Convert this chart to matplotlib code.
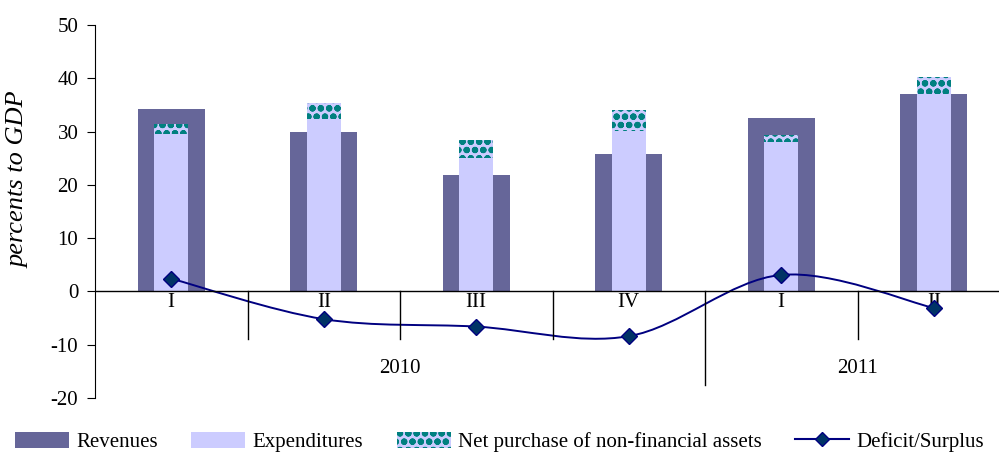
import matplotlib.pyplot as plt
import numpy as np
from matplotlib.path import Path
from matplotlib.patches import PathPatch, Patch
from matplotlib.lines import Line2D

plt.rcParams['font.family'] = ['Liberation Serif', 'DejaVu Serif']
plt.rcParams['axes.unicode_minus'] = False
plt.rcParams['hatch.linewidth'] = 2.2

quarters = ['I', 'II', 'III', 'IV', 'I', 'II']
years = ['2010', '2011']
revenues = [34.2, 30.0, 21.9, 25.7, 32.5, 37.0]
expenditures = [29.5, 32.3, 25.0, 30.1, 28.1, 37.1]
net_purchase = [1.9, 3.0, 3.4, 4.0, 1.2, 3.1]
deficit = [2.4, -5.2, -6.6, -8.4, 3.1, -3.1]

REV_COLOR = '#666699'
EXP_COLOR = '#CCCCFF'
HATCH_COLOR = '#008080'
LINE_COLOR = '#000080'


def smooth_path(xs, ys):
    # Excel-style smoothed line: Catmull-Rom as cubic Bezier segments
    pts = np.column_stack([xs, ys])
    verts = [pts[0]]
    codes = [Path.MOVETO]
    n = len(pts)
    for i in range(n - 1):
        p0 = pts[i - 1] if i > 0 else pts[i]
        p1 = pts[i]
        p2 = pts[i + 1]
        p3 = pts[i + 2] if i + 2 < n else pts[i + 1]
        c1 = p1 + (p2 - p0) / 6
        c2 = p2 - (p3 - p1) / 6
        verts += [c1, c2, p2]
        codes += [Path.CURVE4] * 3
    return Path(verts, codes)


fig = plt.figure(figsize=(9.99, 4.55), dpi=100)
ax = fig.add_axes([95 / 999, 57 / 455, 915 / 999, 373 / 455])

x = np.arange(len(quarters))
ax.bar(x, revenues, width=0.44, color=REV_COLOR, zorder=2)
ax.bar(x, expenditures, width=0.22, color=EXP_COLOR, zorder=3)
ax.bar(x, net_purchase, width=0.22, bottom=expenditures, color=EXP_COLOR,
       edgecolor=HATCH_COLOR, hatch='oo', linewidth=0, zorder=3)

ax.add_patch(PathPatch(smooth_path(x, deficit), facecolor='none',
                       edgecolor=LINE_COLOR, linewidth=1.4, zorder=4))
ax.plot(x, deficit, linestyle='none', marker='D', markersize=8,
        markerfacecolor='#003366', markeredgecolor=LINE_COLOR, zorder=5)

ax.set_xlim(-0.5, 5.5)
ax.set_ylim(-20, 50)
ax.set_yticks(range(-20, 51, 10))
ax.tick_params(axis='y', labelsize=15, direction='out', length=6, pad=6)
ax.set_xticks([])
for s in ['top', 'right', 'bottom']:
    ax.spines[s].set_visible(False)
ax.axhline(0, color='black', linewidth=1, zorder=6)
ax.set_ylabel('percents to GDP', fontsize=19, style='italic')
ax.yaxis.set_label_coords(-0.072, 0.584)

# category axis drawn by hand below zero
for i, q in enumerate(quarters):
    ax.text(i, -2.0, q, ha='center', va='center', fontsize=15)
for b in [0.5, 1.5, 2.5, 4.5]:
    ax.plot([b, b], [0, -9], color='black', linewidth=1, zorder=6)
ax.plot([3.5, 3.5], [0, -17.5], color='black', linewidth=1, zorder=6)
ax.text(1.5, -14.5, years[0], ha='center', va='center', fontsize=15)
ax.text(4.5, -14.5, years[1], ha='center', va='center', fontsize=15)

handles = [
    Patch(facecolor=REV_COLOR, label='Revenues'),
    Patch(facecolor=EXP_COLOR, label='Expenditures'),
    Patch(facecolor=EXP_COLOR, edgecolor=HATCH_COLOR, hatch='oo', linewidth=0,
          label='Net purchase of non-financial assets'),
    Line2D([], [], color=LINE_COLOR, marker='D', markersize=7,
           markerfacecolor='#003366', label='Deficit/Surplus'),
]
fig.legend(handles=handles, loc='lower center', ncol=4, frameon=False,
           fontsize=15, bbox_to_anchor=(0.5, -0.03), handlelength=2.6,
           handleheight=0.8, columnspacing=1.6, handletextpad=0.35,
           borderpad=0.3)

fig.savefig('out.png', dpi=100)
